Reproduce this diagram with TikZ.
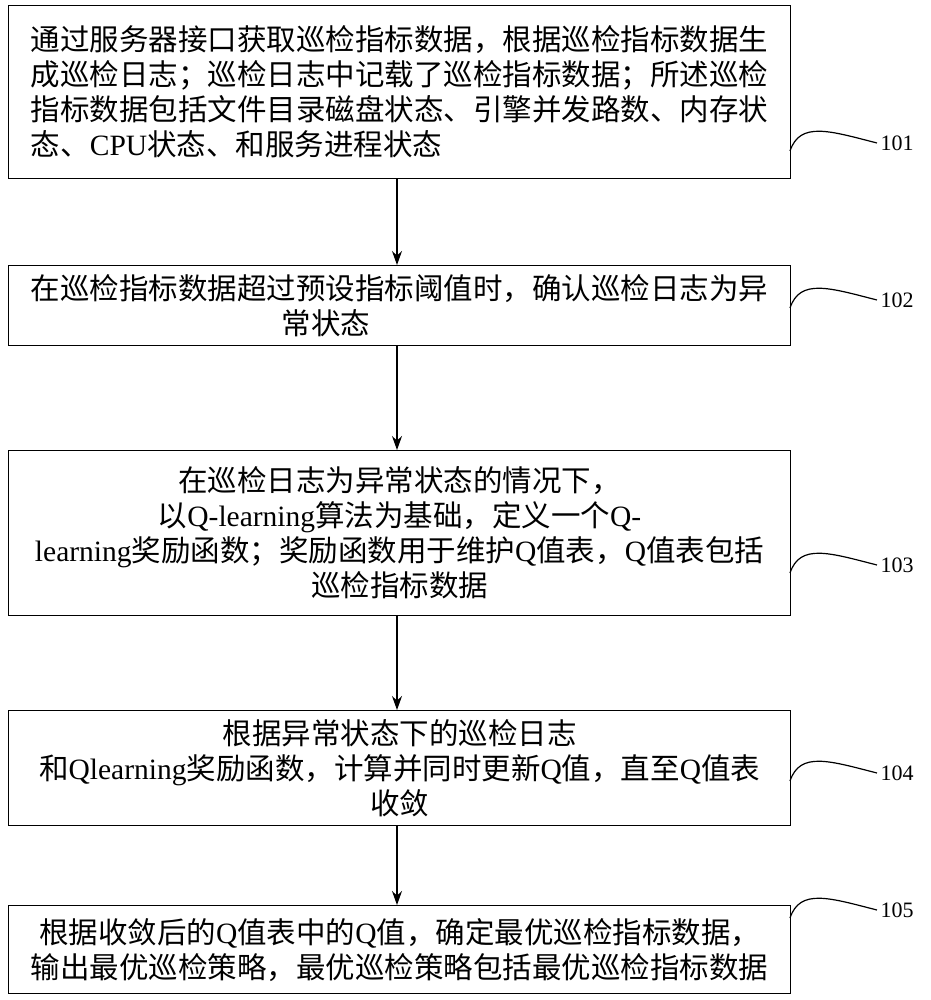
\documentclass[tikz,border=0pt]{standalone}
\usepackage{fontspec}
\setmainfont{Liberation Serif}
\newfontfamily\cjk{Noto Sans CJK SC}
\usetikzlibrary{arrows.meta}
\begin{document}
\begin{tikzpicture}[x=1pt,y=-1pt,
  box/.style={draw,line width=1.2pt,minimum width=782pt,inner sep=2pt,font=\fontsize{29.5}{35}\selectfont,anchor=north west},
  arr/.style={-{Stealth[length=14pt,width=10pt]},line width=1.2pt},
  tag/.style={font=\fontsize{22}{26}\selectfont},
  sq/.style={line width=1.2pt}]
\useasboundingbox (0,0) rectangle (930,1000);
\node[box,minimum height=173pt,align=left] (b1) at (8,5) {\cjk 通过服务器接口获取巡检指标数据，根据巡检指标数据生\\\cjk 成巡检日志；巡检日志中记载了巡检指标数据；所述巡检\\\cjk 指标数据包括文件目录磁盘状态、引擎并发路数、内存状\\\cjk 态、\rmfamily CPU\cjk 状态、和服务进程状态};
\node[box,minimum height=80pt,align=left] (b2) at (8,265) {\cjk 在巡检指标数据超过预设指标阈值时，确认巡检日志为异\\\hspace*{8.5em}\cjk 常状态};
\node[box,minimum height=165pt,align=center] (b3) at (8,450) {\cjk 在巡检日志为异常状态的情况下，\\\cjk 以\rmfamily Q-learning\cjk 算法为基础，定义一个\rmfamily Q-\\\rmfamily learning\cjk 奖励函数；奖励函数用于维护\rmfamily Q\cjk 值表，\rmfamily Q\cjk 值表包括\\\cjk 巡检指标数据};
\node[box,minimum height=115pt,align=center] (b4) at (8,710) {\cjk 根据异常状态下的巡检日志\\\cjk 和\rmfamily Qlearning\cjk 奖励函数，计算并同时更新\rmfamily Q\cjk 值，直至\rmfamily Q\cjk 值表\\\cjk 收敛};
\node[box,minimum height=88pt,align=center] (b5) at (8,905) {\cjk 根据收敛后的\rmfamily Q\cjk 值表中的\rmfamily Q\cjk 值，确定最优巡检指标数据，\\\cjk 输出最优巡检策略，最优巡检策略包括最优巡检指标数据};
\foreach \a/\b in {b1/b2,b2/b3,b3/b4,b4/b5}
  \draw[arr] (\a.south -| 397,0) -- (\b.north -| 397,0);
\foreach \n/\y in {101/143,102/300,103/565,104/773,105/910}{
  \node[tag] (t\n) at (897,\y) {\n};
  \draw[sq] (790,\y+8) .. controls (800,\y-22) and (830,\y-12) .. (t\n.west);
}
\end{tikzpicture}
\end{document}
